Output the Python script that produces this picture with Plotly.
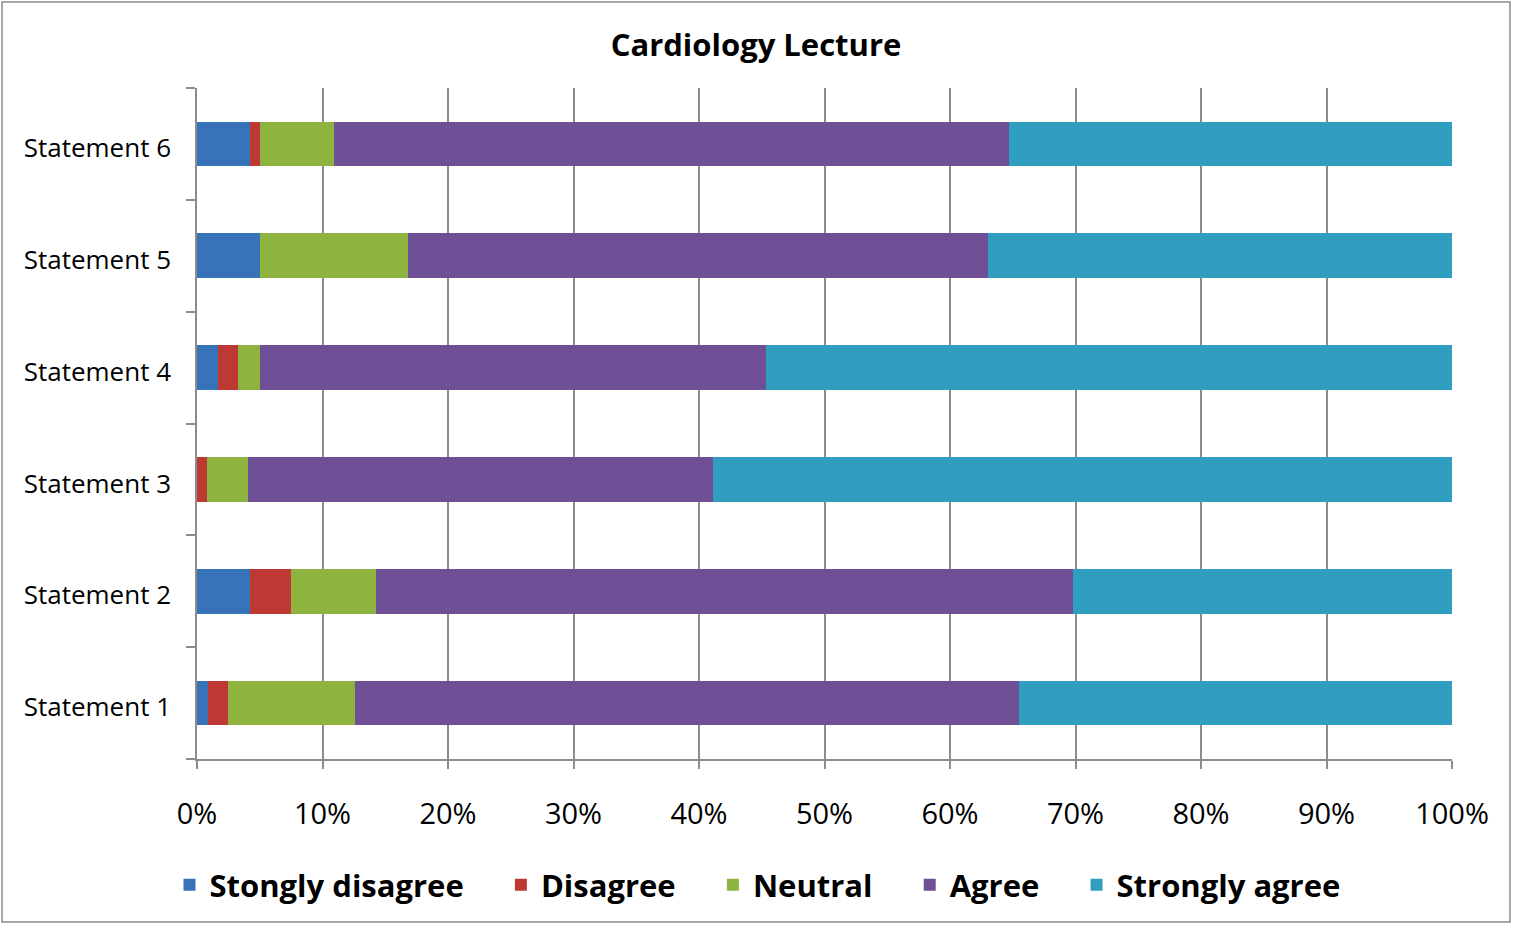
import plotly.graph_objects as go

statements = ["Statement 1", "Statement 2", "Statement 3", "Statement 4", "Statement 5", "Statement 6"]
strongly_disagree = [0.9, 4.2, 0.0, 1.7, 5.0, 4.2]
disagree = [1.6, 3.3, 0.8, 1.6, 0.0, 0.8]
neutral = [10.1, 6.8, 3.3, 1.7, 11.8, 5.9]
agree = [52.9, 55.5, 37.0, 40.3, 46.2, 53.8]
strongly_agree = [34.5, 30.2, 58.9, 54.7, 37.0, 35.3]

series = [
    ("Stongly disagree", strongly_disagree, "#3873BA"),
    ("Disagree", disagree, "#BE3835"),
    ("Neutral", neutral, "#8EB33F"),
    ("Agree", agree, "#6F4F95"),
    ("Strongly agree", strongly_agree, "#2F9EC0"),
]

fig = go.Figure()
for name, vals, color in series:
    fig.add_trace(go.Bar(
        y=statements, x=vals, name=name + "\u00a0" * 4, orientation="h",
        marker=dict(color=color, line=dict(width=0)),
        width=0.4, hovertemplate=name + ": %{x}%<extra></extra>",
    ))

W, H = 1513, 925
ml, mr, mt, mb = 197, 61, 88, 166
pw, ph = W - ml - mr, H - mt - mb

fig.update_layout(
    width=W, height=H,
    barmode="stack",
    paper_bgcolor="white", plot_bgcolor="white",
    margin=dict(l=ml, r=mr, t=mt, b=mb, autoexpand=False),
    font=dict(family="Open Sans, sans-serif", color="black"),
    title=dict(text="<b>Cardiology Lecture</b>", x=756 / W, xref="container", xanchor="center",
               y=1 - 45 / H, yanchor="middle", font=dict(size=31)),
    showlegend=True,
    legend=dict(orientation="h", x=(774 - ml) / pw, xanchor="center",
                y=-(885 - (mt + ph)) / ph, yanchor="middle",
                font=dict(size=31, family="Open Sans, sans-serif", weight="bold"),
                traceorder="normal", itemwidth=30),
    xaxis=dict(range=[0, 100], dtick=10, ticksuffix="%", showgrid=True,
               gridcolor="#8C8C8C", gridwidth=1.5, showline=True, linecolor="#8C8C8C",
               linewidth=1.5, ticks="outside", ticklen=8, tickcolor="#8C8C8C",
               tickwidth=1.5, tickfont=dict(size=29), zeroline=False, ticklabelstandoff=20),
    yaxis=dict(showgrid=False, showline=True, linecolor="#8C8C8C", linewidth=1.5,
               ticks="outside", tickson="boundaries", ticklen=9, tickcolor="#8C8C8C",
               tickwidth=1.5, tickfont=dict(size=26), ticklabelstandoff=19,
               ticklabelshift=4),
    shapes=[dict(type="rect", xref="paper", yref="paper",
                 x0=(2 - ml) / pw, x1=(1510 - ml) / pw,
                 y0=(mt + ph - 922) / ph, y1=(mt + ph - 2) / ph,
                 line=dict(color="#8C8C8C", width=1.5), fillcolor="rgba(0,0,0,0)",
                 layer="below")],
)

fig.write_html("out.html", config={"displayModeBar": False},
               post_script="document.body.style.margin='0';")
